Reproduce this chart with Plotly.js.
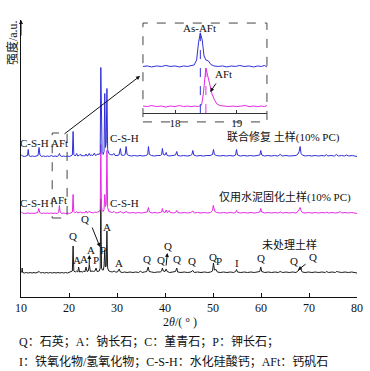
<!DOCTYPE html>
<html><head><meta charset="utf-8">
<script src="https://cdn.plot.ly/plotly-3.0.1.min.js"></script>
<style>html,body{margin:0;padding:0;background:#fff}#chart{width:370px;height:371px}</style>
</head><body><div id="chart"></div>
<script>
// Scan data: [2θ, intensity above baseline]
const blueScan = [[10,3],[10.3,1.5],[10.7,1],[11.1,1.5],[11.35,2],[11.5,8],[11.65,2],[12.0,1],[12.4,1.5],[12.8,1],[13.2,1.5],[13.55,2],[13.75,10],[13.95,2.5],[14.3,1],[14.7,1.5],[15.1,1],[15.5,1.5],[15.9,1],[16.3,2],[16.7,1],[17.1,1.5],[17.5,1],[17.85,2],[18.0,4],[18.15,2],[18.5,1],[18.9,1.5],[19.3,1],[19.7,1.5],[20.1,1],[20.5,1.5],[20.7,2.5],[20.85,26],[21.0,3],[21.3,1.5],[21.6,4],[21.8,1.5],[22.1,2],[22.4,3.5],[22.6,1.5],[23.0,2],[23.3,1.5],[23.55,3.5],[23.75,1.5],[24.0,2],[24.2,4],[24.4,2],[24.7,2.5],[25.0,2],[25.3,4.5],[25.5,2],[25.8,2.5],[26.05,3.5],[26.3,3],[26.5,5],[26.63,90],[26.75,8],[26.9,4],[27.1,3],[27.3,6],[27.45,64],[27.6,10],[27.75,14],[27.9,69],[28.05,8],[28.3,4],[28.6,3],[29.0,2.5],[29.4,4],[29.6,2],[30.0,2],[30.4,2.5],[30.7,9],[30.9,2.5],[31.3,2],[31.7,3],[31.9,11],[32.1,3],[32.5,2],[33.0,1.5],[33.6,2],[34.2,1.5],[34.8,2],[35.4,1.5],[36.0,2],[36.4,3],[36.55,11],[36.75,3],[37.2,2],[37.8,1.5],[38.4,2],[39.0,2],[39.3,3],[39.45,9],[39.65,3],[40.0,2.5],[40.25,5],[40.45,2],[41.0,1.5],[41.6,2],[42.2,2.5],[42.45,6],[42.65,2],[43.2,1.5],[43.9,2],[44.6,1.5],[45.3,2],[45.6,3],[45.8,7],[46.0,2.5],[46.6,1.5],[47.3,2],[48.0,1.5],[48.7,2],[49.4,2],[49.9,3],[50.1,8],[50.3,3],[50.7,2],[51.4,1.5],[52.1,2],[52.8,1.5],[53.5,2],[54.2,1.5],[54.7,2.5],[54.9,8],[55.1,2.5],[55.7,1.5],[56.4,2],[57.1,1.5],[57.8,2],[58.5,1.5],[59.2,2],[59.75,2.5],[59.95,7],[60.15,2.5],[60.7,1.5],[61.4,2],[62.1,1.5],[62.8,2],[63.5,1.5],[64.0,3],[64.5,1.5],[65.2,2],[65.9,1.5],[66.6,2],[67.3,2],[67.7,3.5],[67.95,6],[68.15,11],[68.35,4],[68.6,2.5],[69.2,1.5],[69.9,2],[70.6,1.5],[71.3,2],[72.0,1.5],[72.7,2],[73.3,1.5],[73.6,3],[73.9,1.5],[74.6,2],[75.3,1.5],[75.7,3],[76.1,1.5],[76.8,2],[77.4,1.5],[77.8,2.5],[78.3,1.5],[79.0,2],[79.6,1.5],[80,1]];

const magentaScan = [[10,3],[10.3,1.5],[10.7,1],[11.1,1.5],[11.5,1.5],[11.9,1],[12.3,1.5],[12.7,1],[13.1,1.5],[13.5,2],[13.7,6],[13.9,2],[14.3,1],[14.7,1.5],[15.1,1],[15.5,1.5],[15.9,1],[16.3,1.5],[16.7,1],[17.1,1.5],[17.5,1],[17.85,2],[18.0,9],[18.15,2.5],[18.5,1],[18.9,1.5],[19.3,1],[19.7,1.5],[20.1,1],[20.5,1.5],[20.7,2.5],[20.85,20],[21.0,3],[21.3,1.5],[21.6,3],[21.8,1.5],[22.1,2],[22.4,2.5],[22.7,1.5],[23.0,2],[23.3,1.5],[23.55,3.5],[23.8,1.5],[24.0,2],[24.25,3.5],[24.5,2],[24.8,2],[25.1,1.5],[25.4,2.5],[25.7,2],[26.0,2.5],[26.3,3],[26.5,5],[26.63,70],[26.75,8],[26.9,4],[27.1,3],[27.3,5],[27.45,20],[27.6,8],[27.75,10],[27.9,64],[28.05,7],[28.3,3],[28.6,2.5],[29.0,2],[29.4,3],[29.6,2],[30.0,1.5],[30.4,2],[30.8,3],[31.0,2],[31.4,1.5],[31.9,3],[32.2,2],[32.7,1.5],[33.3,2],[33.9,1.5],[34.5,2],[35.1,1.5],[35.7,2],[36.3,2.5],[36.55,7],[36.75,2.5],[37.3,1.5],[37.9,2],[38.5,1.5],[39.1,2],[39.3,2.5],[39.45,6],[39.65,2.5],[40.0,2],[40.25,4.5],[40.45,2],[40.7,2.5],[40.9,4],[41.1,2],[41.7,1.5],[42.2,2],[42.45,4],[42.65,2],[43.3,1.5],[44.0,2],[44.7,1.5],[45.4,2],[45.8,3.5],[46.1,1.5],[46.8,2],[47.5,1.5],[48.2,2],[48.9,1.5],[49.5,2],[49.9,4],[50.05,9],[50.2,6],[50.4,3],[50.8,2],[51.5,1.5],[52.2,2],[52.9,1.5],[53.6,2],[54.3,1.5],[54.7,2],[54.9,4],[55.1,2],[55.8,1.5],[56.5,2],[57.2,1.5],[57.9,2],[58.6,1.5],[59.3,2],[59.75,2.5],[59.95,6],[60.15,2.5],[60.8,1.5],[61.5,2],[62.2,1.5],[62.9,2],[63.6,1.5],[64.0,2.5],[64.5,1.5],[65.2,2],[65.9,1.5],[66.6,2],[67.3,1.5],[67.7,3],[67.95,5],[68.15,7],[68.35,4],[68.6,2],[69.2,1.5],[69.9,2],[70.6,1.5],[71.3,2],[72.0,1.5],[72.7,2],[73.4,1.5],[73.6,2.5],[74.1,1.5],[74.8,2],[75.5,1.5],[76.2,2],[76.5,3],[76.8,1.5],[77.5,2],[78.2,1.5],[78.9,2],[79.5,1.5],[80,1]];

const blackScan = [[10,1.5],[10.15,2],[10.25,6],[10.35,1.5],[10.7,1],[11.1,1.5],[11.5,1],[11.9,1.5],[12.3,1],[12.7,1.5],[13.1,1],[13.5,1.5],[13.8,2.5],[14.1,1],[14.5,1.5],[14.9,1],[15.3,1.5],[15.7,1],[16.1,1.5],[16.5,1],[16.9,1.5],[17.3,1],[17.7,1.5],[18.1,1],[18.5,1.5],[18.9,1],[19.3,1.5],[19.7,1],[20.1,1.5],[20.5,2],[20.7,3],[20.85,28],[21.0,3],[21.3,2],[21.6,3],[21.85,2],[22.0,7],[22.2,2],[22.5,2.5],[22.8,2],[23.1,3],[23.3,2],[23.55,7],[23.75,2.5],[24.0,3],[24.25,9],[24.45,2.5],[24.8,3],[25.1,2.5],[25.4,3],[25.65,6],[25.85,2.5],[26.1,3],[26.3,3],[26.5,6],[26.63,75],[26.78,6],[26.95,4],[27.15,4],[27.3,8],[27.45,24],[27.6,7],[27.75,8],[27.9,43],[28.05,6],[28.3,3],[28.6,2.5],[29.0,2],[29.4,3],[29.7,2],[30.1,2],[30.45,5],[30.7,2],[31.1,1.5],[31.6,2],[32.1,1.5],[32.7,2],[33.3,1.5],[33.9,2],[34.5,1.5],[34.9,3],[35.2,1.5],[35.7,2],[36.2,2.5],[36.5,7],[36.7,2.5],[37.2,2],[37.8,1.5],[38.4,2],[39.0,2],[39.3,3],[39.45,6],[39.65,3],[40.0,2.5],[40.25,5],[40.45,2.5],[41.0,1.5],[41.6,2],[42.2,2.5],[42.45,6],[42.65,2],[43.3,1.5],[44.0,2],[44.7,1.5],[45.4,2],[45.8,3.5],[46.1,1.5],[46.8,2],[47.5,1.5],[48.2,2],[48.9,1.5],[49.5,2],[49.9,3],[50.1,11],[50.3,4],[50.65,4.5],[50.9,2],[51.5,1.5],[52.2,2],[52.9,1.5],[53.6,2],[54.3,1.5],[54.7,2.5],[54.9,4.5],[55.1,2],[55.8,1.5],[56.5,2],[57.2,1.5],[57.9,2],[58.6,1.5],[59.3,2],[59.75,2.5],[59.95,7],[60.15,2.5],[60.8,1.5],[61.5,2],[62.2,1.5],[62.9,2],[63.6,1.5],[64.0,2.5],[64.5,1.5],[65.2,2],[65.9,1.5],[66.6,2],[67.3,1.5],[67.7,3],[67.95,4],[68.15,6],[68.35,3.5],[68.6,2],[69.2,1.5],[69.9,2],[70.6,1.5],[71.3,2],[72.0,1.5],[72.7,2],[73.4,1.5],[73.6,2.5],[74.1,1.5],[74.8,2],[75.5,1.5],[75.7,2.5],[76.2,2],[76.8,1.5],[77.5,2],[78.2,1.5],[78.9,2],[79.5,1.5],[80,1]];

// Inset (zoomed 17.5–19.5°)
const insetBlue = [[17.48,1.5],[17.55,2],[17.62,1],[17.7,2],[17.78,1.5],[17.85,2.5],[17.92,1.5],[18.0,2],[18.07,1],[18.14,2],[18.2,1.5],[18.26,2.5],[18.31,3],[18.35,8],[18.38,25],[18.41,35],[18.44,28],[18.47,12],[18.5,8],[18.54,7],[18.58,3.5],[18.63,2],[18.7,1.5],[18.77,2],[18.84,1],[18.91,2],[18.98,1.5],[19.05,2.5],[19.12,1.5],[19.2,2],[19.27,1],[19.34,2],[19.4,1.5],[19.45,2.5],[19.49,1]];
const insetMagenta = [[17.48,2],[17.55,1.5],[17.62,2.5],[17.7,1.5],[17.78,2],[17.85,1],[17.92,2],[18.0,1.5],[18.07,2.5],[18.14,1.5],[18.2,2],[18.26,1.5],[18.32,2],[18.38,1.5],[18.43,3],[18.46,15],[18.5,40],[18.53,32],[18.56,22],[18.6,14],[18.64,8],[18.68,4],[18.73,2.5],[18.8,2],[18.87,1.5],[18.94,2],[19.0,1.5],[19.07,2],[19.14,2.5],[19.2,1.5],[19.27,2],[19.34,1.5],[19.4,2],[19.45,1.5],[19.49,2.5]];

const xTicks = [10,20,30,40,50,60,70,80];
const insetTicks = [18,19];
const seriesNames = ['未处理土样','仅用水泥固化土样(10% PC)','联合修复 土样(10% PC)'];

const BLUE = '#2f2fd8', MAG = '#e42ae4', BLK = '#1c1c1c';
const FONT = "'Liberation Serif','Times New Roman','Noto Sans CJK SC',serif";
const offs = {black:23, magenta:82.5, blue:139.5};

function tr(scan, off, color, xa, ya){
  return {x: scan.map(p=>p[0]), y: scan.map(p=>p[1]+off), type:'scatter', mode:'lines',
    line:{color:color, width:1}, xaxis:xa, yaxis:ya, hoverinfo:'skip'};
}
const data = [
  tr(blackScan, offs.black, BLK, 'x','y'),
  tr(magentaScan, offs.magenta, MAG, 'x','y'),
  tr(blueScan, offs.blue, BLUE, 'x','y'),
  tr(insetBlue, 45, BLUE, 'x2','y2'),
  tr(insetMagenta, 5, MAG, 'x2','y2')
];

function lab(t, x, y, size, extra){
  return Object.assign({text:t, x:x, y:y, xref:'x', yref:'y', xanchor:'center', yanchor:'middle', showarrow:false,
    font:{family:FONT, size:size||11, color:'#111'}}, extra||{});
}
function plab(t, x, y, extra){
  return Object.assign({text:t, x:x, y:y, xref:'paper', yref:'paper', xanchor:'center', yanchor:'middle', showarrow:false,
    font:{family:FONT, size:12, color:'#111'}}, extra||{});
}
function arr(x, y, ax, ay, xr, yr){
  return {text:'', x:x, y:y, ax:ax, ay:ay, xref:xr||'x', yref:yr||'y', axref:xr||'x', ayref:yr||'y',
    showarrow:true, arrowhead:2, arrowsize:0.8, arrowwidth:1, arrowcolor:'#111'};
}
const ann = [
  arr(10, 277, 10, 260),
  arr(34.8, 221, 18.75, 162),
  plab('强度/a.u.', -0.027, 0.92, {textangle:-90}),
  plab('2<i>θ</i>/( ° )', 0.473, -0.092),
  plab('Q：石英；A：钠长石；C：堇青石；P：钾长石；', -0.012, -0.161, {xanchor:'left'}),
  plab('I：铁氧化物/氢氧化物；C-S-H：水化硅酸钙；AFt：钙矾石', -0.012, -0.233, {xanchor:'left'}),
  lab('C-S-H',12.9,154), lab('AFt',18.0,154), lab('C-S-H',31.5,159),
  lab(seriesNames[2],76.9,160,11,{xanchor:'right'}),
  lab('C-S-H',12.9,94), lab('AFt',17.9,97), lab('C-S-H',31.5,94),
  lab(seriesNames[1],79.2,100,11,{xanchor:'right'}),
  lab(seriesNames[0],66,53,11),
  lab('Q',20.8,61), lab('A',21.6,37), lab('A',23.1,38), lab('A',24.6,47), lab('P',25.6,37),
  lab('Q',23.3,78), lab('P',27.15,47), lab('A',27.85,70), lab('A',30.5,34),
  lab('Q',36.25,38), lab('Q',39.2,37), lab('Q',40.55,51), lab('Q',42.5,38), lab('Q',45.6,36),
  lab('Q',50.0,40), lab('P',51.25,36), lab('I',55,34), lab('Q',59.9,39), lab('Q',66.8,36), lab('Q',70.9,40),
  arr(26.46,50,24.7,71), arr(24.25,42,24.2,30), arr(40.5,44,40.2,30), arr(67.7,27,69.6,34),
  lab('As-AFt',18.40,85,11,{xref:'x2',yref:'y2'}),
  lab('AFt',18.79,39,11,{xref:'x2',yref:'y2'}),
  arr(18.57,21,18.68,31,'x2','y2')
];
const shapes = [
  {type:'rect', xref:'paper', yref:'paper', x0:0.363, x1:0.732, y0:0.632, y1:0.989, line:{color:'#444', width:1, dash:'dash'}},
  {type:'rect', xref:'x', yref:'y', x0:16.5, x1:19.6, y0:79, y1:164, line:{color:'#444', width:1, dash:'dash'}},
  {type:'line', xref:'x2', yref:'y2', x0:18.41, x1:18.41, y0:0, y1:80, line:{color:BLUE, width:1, dash:'dash'}},
  {type:'line', xref:'x2', yref:'y2', x0:18.50, x1:18.50, y0:0, y1:45, line:{color:MAG, width:1, dash:'dash'}}
];
const layout = {
  width:370, height:371, margin:{l:21, r:13, t:20, b:74}, showlegend:false,
  paper_bgcolor:'#fff', plot_bgcolor:'#fff', font:{family:FONT, color:'#111'},
  xaxis:{range:[10,80], tickvals:xTicks, ticks:'inside', ticklen:4, tickcolor:'#111', showline:true, linecolor:'#111', linewidth:1,
    showgrid:false, zeroline:false, tickfont:{family:FONT,size:12,color:'#111'}},
  yaxis:{range:[0,277], showline:true, linecolor:'#111', linewidth:1, showticklabels:false, ticks:'', showgrid:false, zeroline:false},
  xaxis2:{domain:[0.363,0.732], anchor:'y2', range:[17.48,19.49], tickvals:insetTicks, ticks:'inside', ticklen:3, tickcolor:'#333',
    showline:true, linecolor:'#333', linewidth:1, showgrid:false, zeroline:false, tickfont:{family:FONT,size:11,color:'#111'}},
  yaxis2:{domain:[0.664,0.986], anchor:'x2', range:[0,89], visible:false},
  annotations:ann, shapes:shapes
};
Plotly.newPlot('chart', data, layout, {displayModeBar:false, staticPlot:true});
</script></body></html>
